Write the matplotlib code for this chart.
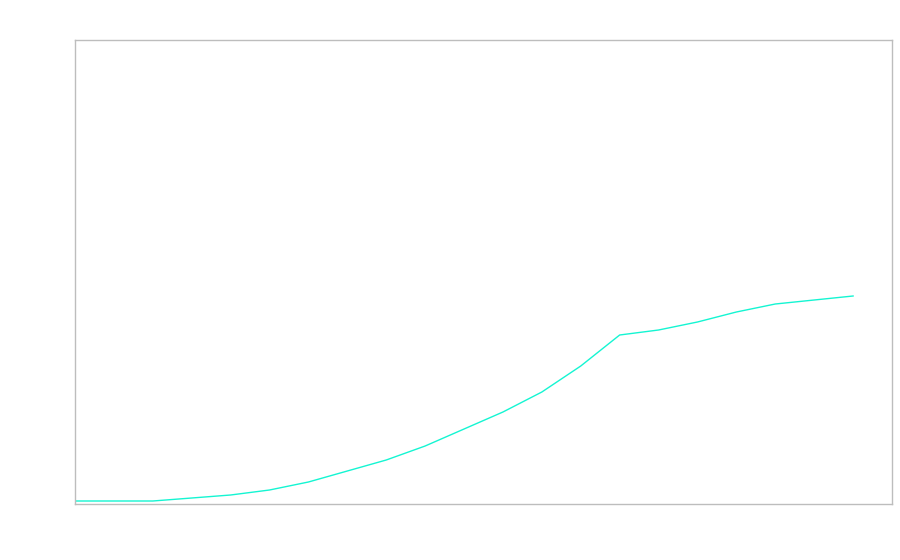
import matplotlib
matplotlib.use("Agg")
import matplotlib.pyplot as plt

x_index = list(range(21))
values = [0, 0, 0, 3, 6, 11, 19, 30, 41, 55, 72, 89, 109, 135, 166, 171, 179, 189, 197, 201, 205]

fig = plt.figure(figsize=(9, 5.6), dpi=100)
ax = fig.add_axes([75/900, 56/560, 817/900, 464/560])
ax.plot(x_index, values, color="#14f5d2", linewidth=1.0)
ax.set_xlim(0, 21)
ax.set_ylim(-3, 461)
ax.set_xticks([])
ax.set_yticks([])
for s in ax.spines.values():
    s.set_color("#bdbdbd")
    s.set_linewidth(1.0)
fig.savefig("out.png", dpi=100, facecolor="white")
